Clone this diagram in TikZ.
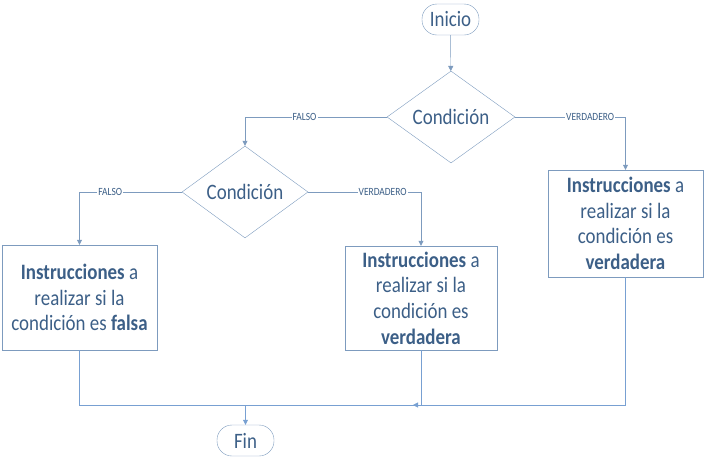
\documentclass[tikz,border=0pt]{standalone}
\usepackage{fontspec}
\setmainfont{Carlito}[FakeStretch=0.86]
\usetikzlibrary{arrows.meta}
\usetikzlibrary{shapes.geometric}
\usetikzlibrary{calc}
\usepackage{xcolor}

\definecolor{flowline}{RGB}{125,155,190}
\definecolor{busline}{RGB}{120,160,210}
\definecolor{flowtext}{RGB}{60,95,135}

\tikzset{
  every node/.style={text=flowtext},
  terminal/.style={draw=flowline, rounded corners=15pt, minimum width=57pt,
    minimum height=31pt, inner sep=0pt, font=\fontsize{22}{25.7}\selectfont},
  decision/.style={draw=flowline, diamond, inner sep=0pt,
    font=\fontsize{22}{25.7}\selectfont},
  process/.style={draw=flowline, rectangle, inner sep=0pt, align=center,
    font=\fontsize{22}{25.7}\selectfont},
  answer/.style={fill=white, inner sep=1pt, font=\fontsize{11}{12}\selectfont},
  flow/.style={draw=flowline, -{Triangle[width=5pt,length=5pt]}},
  bus/.style={draw=busline},
  busarrow/.style={draw=busline, -{Triangle[width=5pt,length=5pt]}}
}

\begin{document}
\begin{tikzpicture}[x=1pt,y=-1pt]

        % Frame
        \useasboundingbox (0,0) rectangle (704,464);

        % Nodes
        \node[terminal] (inicio) at (450.5,19.5) {Inicio};
        \node[decision, minimum width=128pt, minimum height=86pt] (cond1) at (451,117) {Condición};
        \node[decision, minimum width=126pt, minimum height=80pt] (cond2) at (245,192) {Condición};
        \node[process, minimum width=155pt, minimum height=105pt] (falsa) at (79.5,297.5)
          {\textbf{Instrucciones} a\\realizar si la\\condición es \textbf{falsa}};
        \node[process, minimum width=152pt, minimum height=104pt] (verdadera) at (421,298)
          {\textbf{Instrucciones} a\\realizar si la\\condición es\\\textbf{verdadera}};
        \node[process, minimum width=155pt, minimum height=107pt] (verdaderaB) at (625.5,223.5)
          {\textbf{Instrucciones} a\\realizar si la\\condición es\\\textbf{verdadera}};
        \node[terminal] (fin) at (245.5,440.5) {Fin};
        \coordinate (bus) at (245.5,405);

        % Connectors
        \draw[flow] (inicio) -- (cond1);
        \draw[flow] (cond1.west) -| node[answer, pos=0.29] {FALSO} (cond2.north);
        \draw[flow] (cond1.east) -| node[answer, pos=0.34] {VERDADERO} (verdaderaB.north);
        \draw[flow] (cond2.west) -| node[answer, pos=0.35] {FALSO} (falsa.north);
        \draw[flow] (cond2.east) -| node[answer, pos=0.33] {VERDADERO} (verdadera.north);

        % Joining lines
        \draw[bus] (falsa.south) |- (verdadera.south |- bus) -- (verdadera.south);
        \draw[busarrow] (verdaderaB.south) |- ($(verdadera.south |- bus)+(-8,0)$);
        \draw[busarrow] (bus) -- (fin);
    \end{tikzpicture}
\end{document}
